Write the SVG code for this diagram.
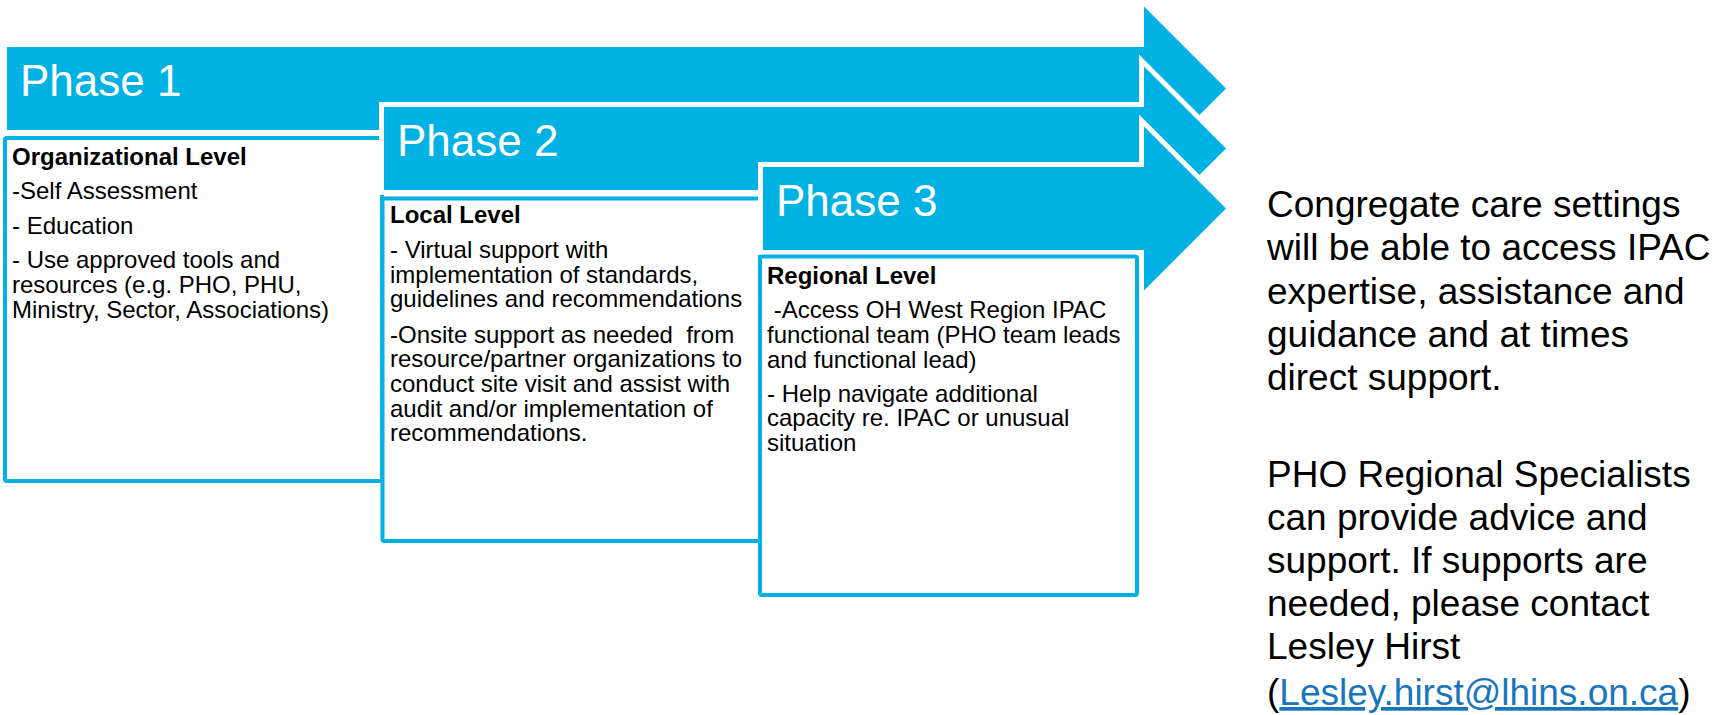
<svg xmlns="http://www.w3.org/2000/svg" width="1716" height="715" viewBox="0 0 1716 715">
<style>
  .arrow { fill: #00B2E3; stroke: #FFFFFF; stroke-width: 10; paint-order: stroke; stroke-linejoin: miter; }
  .box { fill: #FFFFFF; stroke: #00B2E3; stroke-width: 4; }
  .phase { font-family: "Liberation Sans", Arial, sans-serif; font-size: 44px; fill: #FFFFFF; }
  .hd { font-family: "Liberation Sans", Arial, sans-serif; font-size: 24px; font-weight: bold; fill: #000000; }
  .bt { font-family: "Liberation Sans", Arial, sans-serif; font-size: 24px; fill: #000000; white-space: pre; }
  .note { font-family: "Liberation Sans", Arial, sans-serif; font-size: 37px; fill: #000000; white-space: pre; }
  .link { fill: #1B75BC; text-decoration: underline; }
</style>
<rect x="0" y="0" width="1716" height="715" fill="#FFFFFF"/>
<g id="phase1">
  <polygon class="arrow" points="7,47 1144,47 1144,6.5 1226,88.5 1144,170.5 1144,130 7,130"/>
  <text class="phase" x="20" y="96">Phase 1</text>
  <rect class="box" x="5" y="138" width="377" height="343" rx="2"/>
  <text class="hd" x="12" y="165">Organizational Level</text>
  <text class="bt" x="12" y="199">-Self Assessment</text>
  <text class="bt" x="12" y="234">- Education</text>
  <text class="bt" x="12" y="268">- Use approved tools and</text>
  <text class="bt" x="12" y="293">resources (e.g. PHO, PHU,</text>
  <text class="bt" x="12" y="318">Ministry, Sector, Associations)</text>
</g>
<g id="phase2">
  <polygon class="arrow" points="384,107 1144,107 1144,66.5 1226,148.5 1144,230.5 1144,190 384,190"/>
  <text class="phase" x="397" y="156">Phase 2</text>
  <rect class="box" x="382.5" y="198.5" width="377.5" height="342.5" rx="2"/>
  <text class="hd" x="390" y="223">Local Level</text>
  <text class="bt" x="390" y="258">- Virtual support with</text>
  <text class="bt" x="390" y="283">implementation of standards,</text>
  <text class="bt" x="390" y="307">guidelines and recommendations</text>
  <text class="bt" x="390" y="343">-Onsite support as needed  from</text>
  <text class="bt" x="390" y="367">resource/partner organizations to</text>
  <text class="bt" x="390" y="392">conduct site visit and assist with</text>
  <text class="bt" x="390" y="417">audit and/or implementation of</text>
  <text class="bt" x="390" y="441">recommendations.</text>
</g>
<g id="phase3">
  <polygon class="arrow" points="763,167 1144,167 1144,126.5 1226,208.5 1144,290.5 1144,250 763,250"/>
  <text class="phase" x="776" y="216">Phase 3</text>
  <rect class="box" x="760" y="256.5" width="377" height="338.5" rx="2"/>
  <text class="hd" x="767" y="284">Regional Level</text>
  <text class="bt" x="767" y="318"> -Access OH West Region IPAC</text>
  <text class="bt" x="767" y="343">functional team (PHO team leads</text>
  <text class="bt" x="767" y="368">and functional lead)</text>
  <text class="bt" x="767" y="402">- Help navigate additional</text>
  <text class="bt" x="767" y="426">capacity re. IPAC or unusual</text>
  <text class="bt" x="767" y="451">situation</text>
</g>
<g id="note">
  <text class="note" x="1267" y="217">Congregate care settings</text>
  <text class="note" x="1267" y="260">will be able to access IPAC</text>
  <text class="note" x="1267" y="303.5">expertise, assistance and</text>
  <text class="note" x="1267" y="347">guidance and at times</text>
  <text class="note" x="1267" y="390">direct support.</text>
  <text class="note" x="1267" y="487">PHO Regional Specialists</text>
  <text class="note" x="1267" y="530">can provide advice and</text>
  <text class="note" x="1267" y="573">support. If supports are</text>
  <text class="note" x="1267" y="616">needed, please contact</text>
  <text class="note" x="1267" y="659">Lesley Hirst</text>
  <text class="note" x="1267" y="705">(<tspan class="link">Lesley.hirst@lhins.on.ca</tspan>)</text>
</g>
<g id="connectors"></g>
</svg>
